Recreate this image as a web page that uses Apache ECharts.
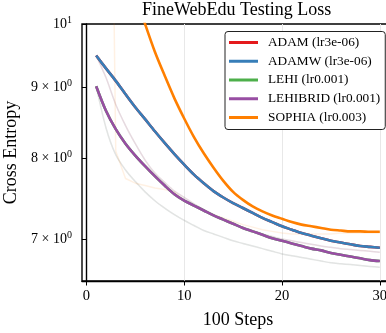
<!DOCTYPE html>
<html>
<head>
<meta charset="utf-8">
<script src="https://cdn.jsdelivr.net/npm/echarts@6/dist/echarts.min.js"></script>
<style>
  html, body { margin: 0; padding: 0; background: #fff; }
  #chart { width: 386px; height: 333px; }
</style>
</head>
<body>
<div id="chart"></div>
<script>
const SERIF = "'Liberation Serif', 'DejaVu Serif', serif";

const steps = [1, 2, 3, 4, 5, 6, 7, 8, 9, 10, 11, 12, 13, 14, 15,
  16, 17, 18, 19, 20, 21, 22, 23, 24, 25, 26, 27, 28, 29, 30];

// testing loss (bold lines)
const adamTest = [9.49, 9.29, 9.10, 8.90, 8.71, 8.54, 8.37, 8.21, 8.06, 7.92, 7.79, 7.68, 7.58, 7.50, 7.43,
  7.37, 7.31, 7.25, 7.20, 7.15, 7.11, 7.07, 7.04, 7.01, 6.98, 6.96, 6.94, 6.92, 6.91, 6.90];
const adamwTest = [9.49, 9.29, 9.10, 8.90, 8.71, 8.54, 8.37, 8.21, 8.06, 7.92, 7.79, 7.68, 7.58, 7.50, 7.43,
  7.37, 7.31, 7.25, 7.20, 7.15, 7.11, 7.07, 7.04, 7.01, 6.98, 6.96, 6.94, 6.92, 6.91, 6.90];
const lehiTest = [9.02, 8.66, 8.40, 8.20, 8.04, 7.90, 7.77, 7.65, 7.54, 7.46, 7.40, 7.34, 7.28, 7.23, 7.18,
  7.13, 7.09, 7.05, 7.01, 6.98, 6.95, 6.92, 6.89, 6.87, 6.84, 6.82, 6.80, 6.78, 6.76, 6.75];
const lehibridTest = [9.02, 8.66, 8.40, 8.20, 8.04, 7.90, 7.77, 7.65, 7.54, 7.46, 7.40, 7.34, 7.28, 7.23, 7.18,
  7.13, 7.09, 7.05, 7.01, 6.98, 6.95, 6.92, 6.89, 6.87, 6.84, 6.82, 6.80, 6.78, 6.76, 6.75];
const sophiaTest = [13.5, 12.6, 11.8, 11.1, 10.5, 10.0, 9.55, 9.18, 8.84, 8.55, 8.29, 8.07, 7.88, 7.71, 7.57,
  7.47, 7.39, 7.33, 7.28, 7.24, 7.20, 7.17, 7.15, 7.13, 7.11, 7.10, 7.09, 7.09, 7.085, 7.085];

// faint background curves
const adamTrain = [9.49, 9.15, 8.75, 8.45, 8.20, 7.98, 7.81, 7.69, 7.58, 7.50, 7.42, 7.35, 7.29, 7.23, 7.18,
  7.14, 7.10, 7.06, 7.03, 7.00, 6.98, 6.96, 6.94, 6.92, 6.905, 6.89, 6.88, 6.87, 6.86, 6.85];
const lehiTrain = [9.02, 8.42, 8.05, 7.85, 7.70, 7.57, 7.46, 7.37, 7.29, 7.22, 7.16, 7.10, 7.06, 7.02, 6.98,
  6.95, 6.92, 6.89, 6.86, 6.83, 6.81, 6.79, 6.77, 6.75, 6.73, 6.72, 6.71, 6.70, 6.69, 6.68];
const sophiaTrain = [60, 30, 8.1, 7.74, 7.68, 7.65, 7.62, 7.60, 7.57, 7.46, 7.40, 7.34, 7.29, 7.25, 7.21,
  7.17, 7.14, 7.11, 7.09, 7.07, 7.06, 7.06, 7.06, 7.06, 7.06, 7.07, 7.07, 7.07, 7.07, 7.07];

const legendNames = ['ADAM (lr3e-06)', 'ADAMW (lr3e-06)', 'LEHI (lr0.001)', 'LEHIBRID (lr0.001)', 'SOPHIA (lr0.003)'];
const xTicks = [0, 10, 20, 30];
const yTicks = [7, 8, 9, 10];

const colors = {
  adam: '#e41a1c', adamw: '#377eb8', lehi: '#4daf4a', lehibrid: '#984ea3', sophia: '#ff7f00'
};

function pairs(vals) {
  return steps.map((s, i) => [s, vals[i]]);
}

function mainLine(name, vals, color) {
  return {
    name, type: 'line', data: pairs(vals), showSymbol: false, symbol: 'none', smooth: 0.3,
    lineStyle: { color, width: 2.6 }, itemStyle: { color }, z: 5, silent: true
  };
}

function faintLine(name, vals, color, smooth) {
  return {
    name, type: 'line', data: pairs(vals), showSymbol: false, symbol: 'none', smooth: smooth || false,
    lineStyle: { color, width: 1.5, opacity: 0.11 }, z: 2, silent: true
  };
}

const chart = echarts.init(document.getElementById('chart'), null, { renderer: 'canvas' });

chart.setOption({
  animation: false,
  backgroundColor: '#fff',
  title: {
    text: 'FineWebEdu Testing Loss',
    left: 142, top: 0, padding: 0,
    textStyle: { fontFamily: SERIF, fontSize: 18, fontWeight: 'normal', color: '#000', lineHeight: 20 }
  },
  legend: {
    data: legendNames,
    orient: 'vertical',
    left: 225, top: 31.5,
    padding: [4, 5, 5, 4],
    itemWidth: 29, itemHeight: 3, itemGap: 4.75,
    icon: 'rect',
    borderColor: '#222', borderWidth: 1, borderRadius: 3,
    backgroundColor: '#fff',
    textStyle: { fontFamily: SERIF, fontSize: 13.3, color: '#000', lineHeight: 14, padding: [0, 0, 0, 5] },
    selectedMode: false
  },
  grid: {
    left: 82, top: 24, right: -8, bottom: 52,
    show: true, borderColor: '#000', borderWidth: 1.4,
    outerBoundsMode: 'none'
  },
  xAxis: {
    type: 'value', min: -0.45, max: 31.45,
    name: '100 Steps', nameLocation: 'middle', nameGap: 30,
    nameTextStyle: { fontFamily: SERIF, fontSize: 18, color: '#000' },
    axisLine: { show: true, lineStyle: { color: '#000', width: 1.4 } },
    axisTick: { show: true, customValues: xTicks, length: 4.5, lineStyle: { color: '#000', width: 1 } },
    axisLabel: { customValues: xTicks, fontFamily: SERIF, fontSize: 14.5, color: '#000', margin: 8 },
    splitLine: { show: true, lineStyle: { color: '#e8e8e8', width: 1 } }
  },
  yAxis: {
    type: 'log', logBase: 10, min: 6.53, max: 10,
    name: 'Cross Entropy', nameLocation: 'middle', nameGap: 55,
    nameTextStyle: { fontFamily: SERIF, fontSize: 18, color: '#000' },
    axisLine: { show: true, lineStyle: { color: '#000', width: 1.4 } },
    axisTick: { show: true, customValues: yTicks, length: 4.5, lineStyle: { color: '#000', width: 1 } },
    axisLabel: {
      customValues: yTicks, margin: 10,
      formatter: function (v) {
        const n = Math.round(v);
        if (n === 10) return '{b|10}{s|1}';
        return '{b|' + n + ' \u00d7 10}{s|0}';
      },
      rich: {
        b: { fontFamily: SERIF, fontSize: 14, color: '#000' },
        s: { fontFamily: SERIF, fontSize: 10, color: '#000', padding: [0, 0, 8, 0] }
      }
    },
    splitLine: { show: false },
    minorTick: { show: false }
  },
  series: [
    faintLine('adam-train', adamTrain, colors.adam, 0.3),
    faintLine('adamw-train', adamTrain, colors.adamw, 0.3),
    faintLine('lehi-train', lehiTrain, colors.lehi, 0.3),
    faintLine('lehibrid-train', lehiTrain, colors.lehibrid, 0.3),
    faintLine('sophia-train', sophiaTrain, colors.sophia),
    mainLine(legendNames[0], adamTest, colors.adam),
    mainLine(legendNames[1], adamwTest, colors.adamw),
    mainLine(legendNames[2], lehiTest, colors.lehi),
    mainLine(legendNames[3], lehibridTest, colors.lehibrid),
    mainLine(legendNames[4], sophiaTest, colors.sophia)
  ]
});
</script>
</body>
</html>
